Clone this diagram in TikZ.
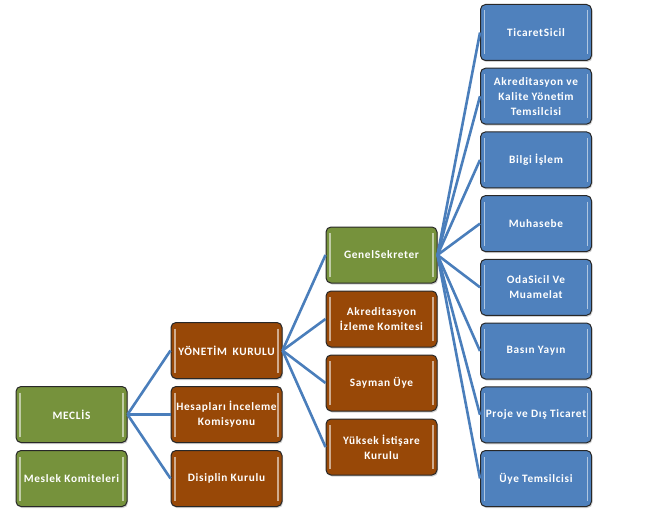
\documentclass[tikz,border=0pt]{standalone}
\usepackage{fontspec}
\setmainfont{Carlito}[LetterSpace=6]
\usetikzlibrary{shadows}
\definecolor{meclisgreen}{RGB}{118, 146, 60}
\definecolor{kurulbrown}{RGB}{152, 72, 7}
\definecolor{birimblue}{RGB}{79, 129, 189}
\definecolor{linkblue}{RGB}{74, 126, 187}
\definecolor{edgegray}{RGB}{40, 40, 40}
\begin{document}
\begin{tikzpicture}[x=1pt, y=-1pt,
  orgbox/.style={draw=edgegray, line width=1pt, rounded corners=5pt,
    minimum width=111pt, minimum height=56pt, inner sep=1pt,
    text=white, font=\fontsize{11.3}{15}\selectfont\bfseries, align=center,
    drop shadow={opacity=0.35, shadow xshift=1pt, shadow yshift=-1.5pt},
    path picture={
      \draw[white, opacity=0.55, line width=1.2pt]
        ([xshift=4pt, yshift=-6pt]path picture bounding box.north west) --
        ([xshift=4pt, yshift=6pt]path picture bounding box.south west);
      \draw[white, opacity=0.55, line width=1.2pt]
        ([xshift=-4pt, yshift=-6pt]path picture bounding box.north east) --
        ([xshift=-4pt, yshift=6pt]path picture bounding box.south east);
    }},
  greenbox/.style={orgbox, fill=meclisgreen},
  brownbox/.style={orgbox, fill=kurulbrown},
  bluebox/.style={orgbox, fill=birimblue},
  link/.style={draw=linkblue, line width=2.6pt}]
  \useasboundingbox (0,0) rectangle (648,516);

  % Meclis
  \node[greenbox] (meclis) at (71.5, 414.5) {MECLİS};
  \node[greenbox] (meslek) at (71.5, 478.5) {Meslek Komiteleri};

  % Kurullar
  \node[brownbox] (yonetim) at (226.5, 350.5) {YÖNETİM\enspace KURULU};
  \node[brownbox] (hesap) at (226.5, 414.5) {Hesapları İnceleme\\Komisyonu};
  \node[brownbox] (disiplin) at (226.5, 478.5) {Disiplin Kurulu};

  % Yonetim altlari
  \node[greenbox] (genel) at (381.5, 255) {GenelSekreter};
  \node[brownbox] (izleme) at (381.5, 319) {Akreditasyon\\İzleme Komitesi};
  \node[brownbox] (sayman) at (381.5, 383) {Sayman Üye};
  \node[brownbox] (istisare) at (381.5, 447) {Yüksek İstişare\\Kurulu};

  % Birimler
  \node[bluebox] (sicil) at (536, 32.5) {TicaretSicil};
  \node[bluebox] (kalite) at (536, 96.2) {Akreditasyon ve\\Kalite Yönetim\\Temsilcisi};
  \node[bluebox] (bilgi) at (536, 159.9) {Bilgi İşlem};
  \node[bluebox] (muhasebe) at (536, 223.6) {Muhasebe};
  \node[bluebox] (oda) at (536, 287.3) {OdaSicil Ve\\Muamelat};
  \node[bluebox] (basin) at (536, 351) {Basın Yayın};
  \node[bluebox] (proje) at (536, 414.8) {Proje ve Dış Ticaret};
  \node[bluebox] (uye) at (536, 478.5) {Üye Temsilcisi};

  % Baglantilar
  \foreach \c in {yonetim, hesap, disiplin}
    \draw[link] (meclis.east) -- (\c.west);
  \foreach \c in {genel, izleme, sayman, istisare}
    \draw[link] (yonetim.east) -- (\c.west);
  \foreach \c in {sicil, kalite, bilgi, muhasebe, oda, basin, proje, uye}
    \draw[link] (genel.east) -- (\c.west);
\end{tikzpicture}
\end{document}
